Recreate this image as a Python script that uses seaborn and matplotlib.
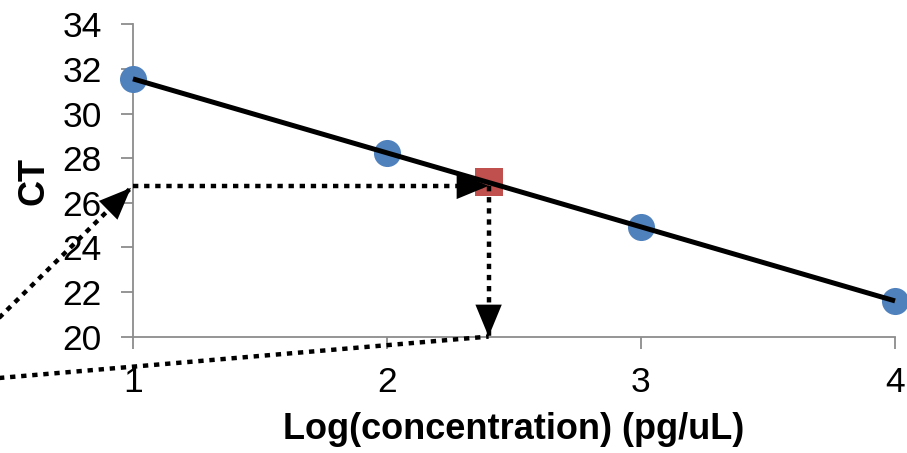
import matplotlib
matplotlib.use('Agg')
import matplotlib.pyplot as plt
import seaborn as sns
import pandas as pd

# ---- data ----
log_conc = [1, 2, 3, 4]
ct_values = [31.56, 28.24, 24.92, 21.6]
unknown_log_conc = [2.4]
unknown_ct = [26.92]
read_ct = 26.76           # CT level of the horizontal read-off line
x_ticks = [1, 2, 3, 4]
y_ticks = [20, 22, 24, 26, 28, 30, 32, 34]
x_label = 'Log(concentration) (pg/uL)'
y_label = 'CT'

# off-chart pointer lines (start points lie left of the plot)
ptr1_start = (0.398, 20.0)
ptr1_end = (0.992, 26.67)
ptr2_start = (0.398, 18.07)
ptr2_end = (2.4, 20.0)

sns.set_theme(style='white')
plt.rcParams['font.family'] = ['Liberation Sans', 'DejaVu Sans']
plt.rcParams['text.color'] = 'black'
plt.rcParams['axes.labelcolor'] = 'black'

fig = plt.figure(figsize=(9.07, 4.53), dpi=100)
ax = fig.add_axes([0.1466, 0.257, 0.8402, 0.689])

df = pd.DataFrame({'log_conc': log_conc, 'ct': ct_values})
sns.regplot(data=df, x='log_conc', y='ct', ax=ax, ci=None, truncate=True,
            color='#4F81BD',
            scatter_kws=dict(s=380, color='#4F81BD', clip_on=False,
                             zorder=3, linewidths=0, alpha=1),
            line_kws=dict(color='black', lw=3.6, zorder=5,
                          solid_capstyle='butt', clip_on=False))

udf = pd.DataFrame({'log_conc': unknown_log_conc, 'ct': unknown_ct})
sns.scatterplot(data=udf, x='log_conc', y='ct', marker='s', s=400,
                color='#C0504D', linewidth=0, ax=ax, zorder=4, clip_on=False)

dot_style = dict(color='black', lw=3.2, linestyle=(0, (1.2, 1.3)),
                 dash_capstyle='butt', clip_on=False, zorder=6)
head = dict(arrowstyle='-|>,head_length=2.3,head_width=0.95',
            mutation_scale=10, fc='black', ec='none', lw=0,
            shrinkA=0, shrinkB=0)


def dotted(p0, p1, with_head=True):
    ax.plot([p0[0], p1[0]], [p0[1], p1[1]], **dot_style)
    if with_head:
        ax.annotate('', xy=p1, xytext=p0, xycoords='data', textcoords='data',
                    arrowprops=head, annotation_clip=False, zorder=7)


dotted((x_ticks[0], read_ct), (unknown_log_conc[0], read_ct))
dotted((unknown_log_conc[0], read_ct), (unknown_log_conc[0], y_ticks[0]))
dotted(ptr1_start, ptr1_end)
dotted(ptr2_start, ptr2_end, with_head=False)

ax.set_xlim(x_ticks[0], x_ticks[-1])
ax.set_ylim(y_ticks[0], y_ticks[-1])
ax.set_xticks(x_ticks)
ax.set_yticks(y_ticks)

for s in ['top', 'right']:
    ax.spines[s].set_visible(False)
for s in ['left', 'bottom']:
    ax.spines[s].set_color('#8C8C8C')
    ax.spines[s].set_linewidth(1.3)

ax.tick_params(axis='both', which='major', bottom=True, left=True,
               direction='out', length=8.5, width=1.3, color='#8C8C8C',
               labelsize=25.5, labelcolor='black')
ax.tick_params(axis='y', pad=14)
ax.tick_params(axis='x', pad=13)

ax.set_xlabel(x_label, fontsize=26, fontweight='bold', labelpad=9, color='black')
ax.set_ylabel(y_label, fontsize=26, fontweight='bold', labelpad=8, color='black')

fig.savefig('out.png', dpi=100)
